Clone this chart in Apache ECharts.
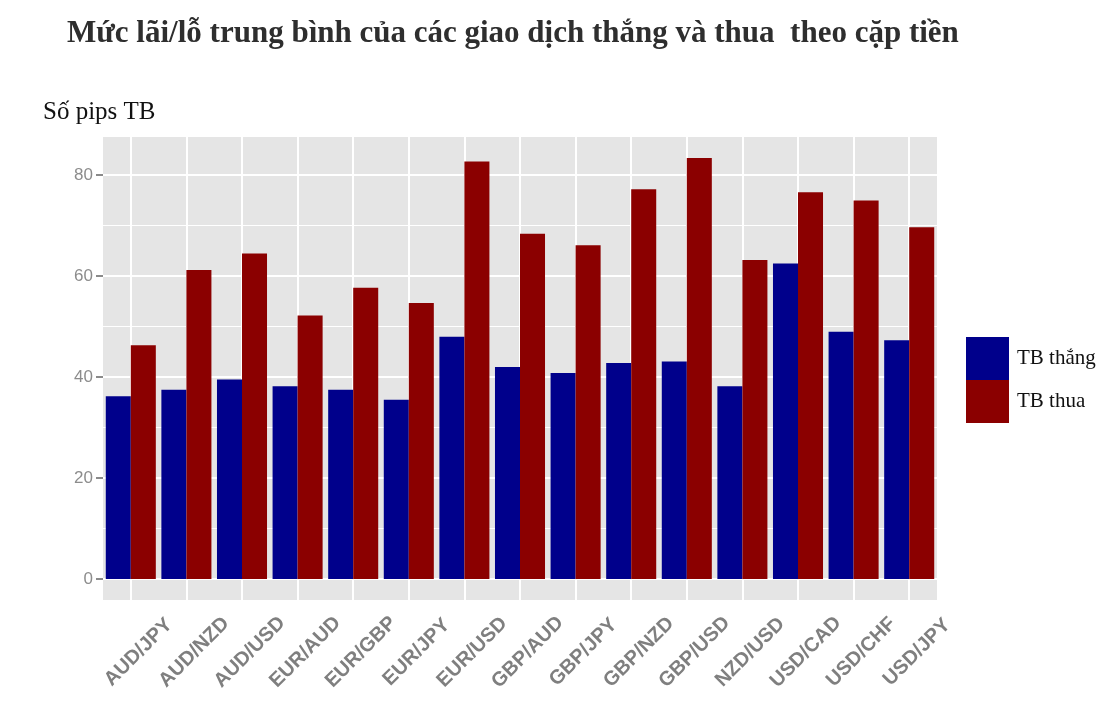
<!DOCTYPE html>
<html>
<head>
<meta charset="utf-8">
<script src="https://cdn.jsdelivr.net/npm/echarts@6/dist/echarts.min.js"></script>
<style>html,body{margin:0;padding:0;background:#fff;}#c{width:1100px;height:723px;}</style>
</head>
<body>
<div id="c"></div>
<script>
const categories = ['AUD/JPY','AUD/NZD','AUD/USD','EUR/AUD','EUR/GBP','EUR/JPY','EUR/USD','GBP/AUD','GBP/JPY','GBP/NZD','GBP/USD','NZD/USD','USD/CAD','USD/CHF','USD/JPY'];
const winValues = [36.2, 37.5, 39.5, 38.2, 37.5, 35.5, 48.0, 42.0, 40.8, 42.8, 43.1, 38.2, 62.5, 49.0, 47.3];
const lossValues = [46.3, 61.2, 64.5, 52.2, 57.7, 54.7, 82.7, 68.4, 66.1, 77.2, 83.4, 63.2, 76.6, 75.0, 69.7];
const yTicks = [0, 20, 40, 60, 80];
const yMinorTicks = [10, 30, 50, 70];
const seriesNames = ['TB thắng', 'TB thua'];
const titleText = 'Mức lãi/lỗ trung bình của các giao dịch thắng và thua  theo cặp tiền';
const yAxisTitle = 'Số pips TB';

const yMax = 83.4 * 1.05;
const yMin = -83.4 * 0.05;

const chart = echarts.init(document.getElementById('c'), null, {renderer: 'canvas'});

const gridLines = [];
yTicks.forEach(v => gridLines.push({yAxis: v, lineStyle: {width: 2}}));
yMinorTicks.forEach(v => gridLines.push({yAxis: v, lineStyle: {width: 1}}));
categories.forEach(c => gridLines.push({xAxis: c, lineStyle: {width: 2}}));

chart.setOption({
  backgroundColor: '#ffffff',
  animation: false,
  title: [
    {text: titleText, left: 62, top: 13,
     textStyle: {fontFamily: 'Liberation Serif', fontWeight: 'bold', fontSize: 31, color: '#2e2e2e'}},
    {text: yAxisTitle, left: 38, top: 95,
     textStyle: {fontFamily: 'Liberation Serif', fontWeight: 'normal', fontSize: 25, color: '#111111'}}
  ],
  legend: {
    data: seriesNames,
    orient: 'vertical',
    left: 961, top: 332,
    itemWidth: 43, itemHeight: 43, itemGap: 0,
    icon: 'rect',
    textStyle: {fontFamily: 'Liberation Serif', fontSize: 21, color: '#111111', padding: [0,0,0,3]}
  },
  grid: {left: 103, right: 163, top: 137, bottom: 123, show: true, backgroundColor: '#E5E5E5', borderWidth: 0},
  xAxis: {
    type: 'category',
    data: categories,
    axisLine: {show: false},
    axisTick: {show: true, alignWithLabel: true, length: 7, lineStyle: {color: '#8a8a8a', width: 2}},
    splitLine: {show: false},
    axisLabel: {interval: 0, rotate: 45, align: 'center', verticalAlign: 'middle', margin: 60,
      padding: [0, 0, 0, 22],
      color: '#7f7f7f', fontFamily: 'Liberation Sans', fontWeight: 'bold', fontSize: 20}
  },
  yAxis: {
    type: 'value',
    min: yMin, max: yMax,
    axisLine: {show: false},
    splitLine: {show: false},
    axisTick: {show: true, length: 7, customValues: yTicks, lineStyle: {color: '#8a8a8a', width: 2}},
    axisLabel: {customValues: yTicks, margin: 10, color: '#8c8c8c', fontFamily: 'Liberation Sans', fontSize: 17}
  },
  series: [
    {
      type: 'line', name: '_grid', data: [], z: 1, silent: true,
      markLine: {silent: true, z: 1, symbol: 'none', label: {show: false}, animation: false,
        lineStyle: {color: '#ffffff', type: 'solid'}, data: gridLines}
    },
    {name: seriesNames[0], type: 'bar', data: winValues, z: 3, barGap: '0%', barCategoryGap: '10%',
     itemStyle: {color: '#00008B'}},
    {name: seriesNames[1], type: 'bar', data: lossValues, z: 3, barGap: '0%', barCategoryGap: '10%',
     itemStyle: {color: '#8B0000'}}
  ]
});
</script>
</body>
</html>
